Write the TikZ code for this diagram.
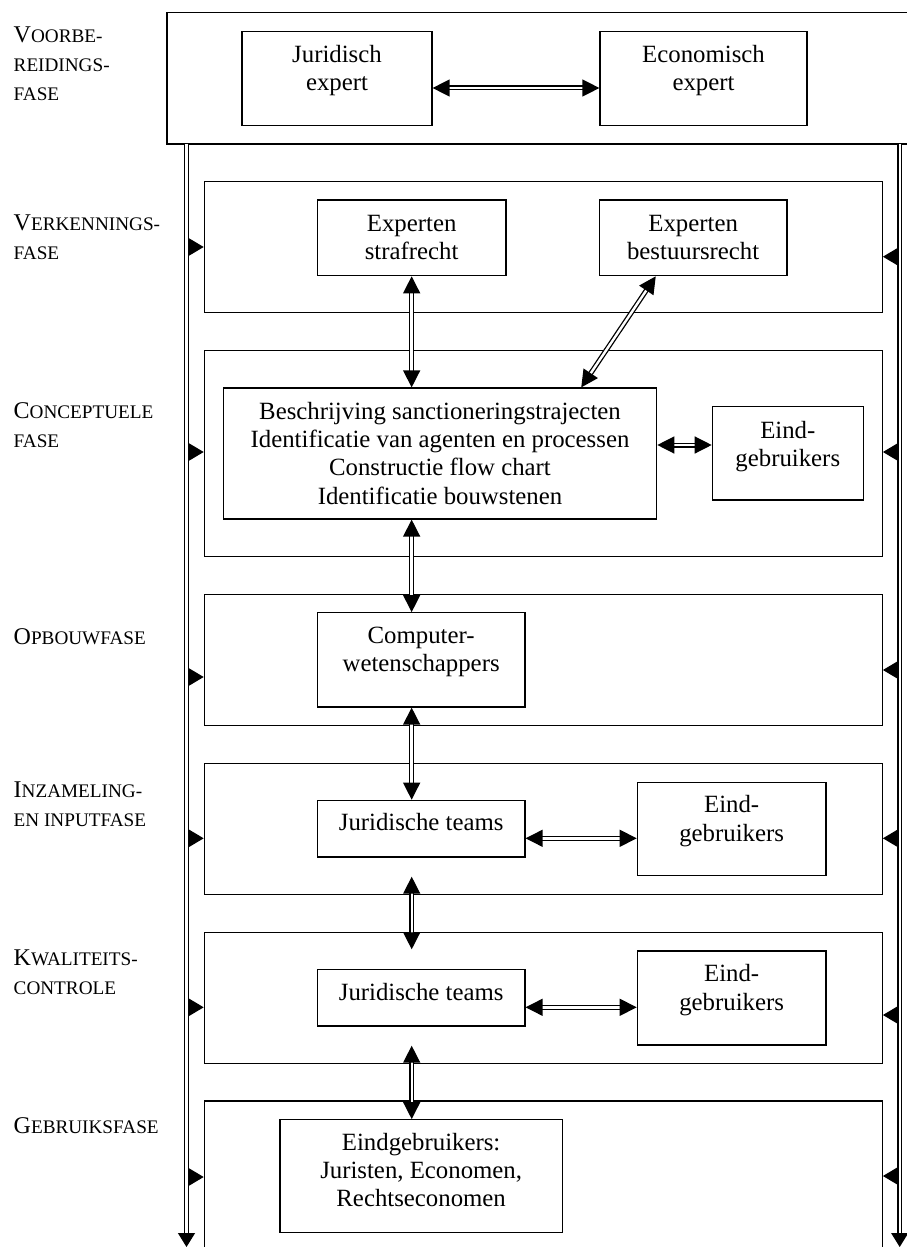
\documentclass[tikz,border=0pt]{standalone}
\usepackage{fontspec}
\setmainfont{Liberation Serif}
\usetikzlibrary{arrows.meta,fit,calc}
\newcommand\scBig[1]{{\fontsize{12}{14.5}\selectfont #1}}
\newcommand\scSm[1]{{\fontsize{9.6}{14.5}\selectfont #1}}
\begin{document}
\begin{tikzpicture}[x=0.5pt,y=-0.5pt,
 box/.style={draw, line width=0.6pt, inner sep=0pt, rectangle},
 txt/.style={align=center, font=\fontsize{12.4}{14.2}\selectfont, inner sep=0pt},
 lab/.style={anchor=base west, inner sep=0pt, align=left, font=\fontsize{12}{14.5}\selectfont},
 dbl/.style={draw, line width=0.65pt, double, double distance=1.2pt},
 biarrow/.style={dbl, {Triangle[length=8.5pt,width=8.5pt]}-{Triangle[length=8.5pt,width=8.5pt]}},
 sidetip/.style={-{Triangle[length=7.7pt,width=9pt]}, line width=0.6pt},
 maintip/.style={dbl, -{Triangle[length=7pt,width=8.5pt]}}
]
\useasboundingbox (0,0) rectangle (906,1247);
% preparatory phase
\node[box, fit={(167,12.7) (930,144)}] (top) {};
\node[box, fit={(242,31.7) (432,125.3)}] (jur) {};
\node[box, fit={(600,31.7) (807,125.3)}] (eco) {};
\node[txt, anchor=base] (jurT) at (jur.center |- 0,90.7) {Juridisch\\expert};
\node[txt, anchor=base] (ecoT) at (eco.center |- 0,90.7) {Economisch\\expert};
\draw[biarrow] (jur.east |- 0,88) -- (eco.west |- 0,88);
% phase boxes
\node[box, fit={(204.3,181.7) (882.3,312.7)}] (p1) {};
\node[box, fit={(204.3,350.3) (882.3,556.7)}] (p2) {};
\node[box, fit={(204.3,594.3) (882.3,725.3)}] (p3) {};
\node[box, fit={(204.3,763.3) (882.3,894.3)}] (p4) {};
\node[box, fit={(204.3,932.3) (882.3,1063.3)}] (p5) {};
\node[box, fit={(204.3,1101) (882.3,1262)}] (p6) {};
% inner boxes
\node[box, fit={(317.3,200) (506,275.7)}] (straf) {};
\node[box, fit={(599.3,200) (787,275.7)}] (best) {};
\node[box, fit={(223.3,388) (656.7,519)}] (besch) {};
\node[box, fit={(712.3,406.7) (863.3,500)}] (eind2) {};
\node[box, fit={(317.3,612.7) (525,707)}] (comp) {};
\node[box, fit={(317.3,800.3) (525,857)}] (jur4) {};
\node[box, fit={(637.3,782.3) (826,875.7)}] (eind4) {};
\node[box, fit={(317.3,969.7) (525,1026)}] (jur5) {};
\node[box, fit={(637.3,951) (826,1045)}] (eind5) {};
\node[box, fit={(280,1119.7) (562.3,1232.7)}] (eindg) {};
% texts (anchor base = baseline of last line)
\node[txt, anchor=base] (strafT) at (straf.center |- 0,259.4) {Experten\\strafrecht};
\node[txt, anchor=base] (bestT) at (best.center |- 0,259.4) {Experten\\bestuursrecht};
\node[txt, anchor=base] (beschT) at (besch.center |- 0,504.2) {Beschrijving sanctioneringstrajecten\\Identificatie van agenten en processen\\Constructie flow chart\\Identificatie bouwstenen};
\node[txt, anchor=base] (eind2T) at (eind2.center |- 0,466.7) {Eind-\\gebruikers};
\node[txt, anchor=base] (compT) at (comp.center |- 0,671.7) {Computer-\\wetenschappers};
\node[txt, anchor=base] (jur4T) at (jur4.center |- 0,830.7) {Juridische teams};
\node[txt, anchor=base] (eind4T) at (eind4.center |- 0,841.1) {Eind-\\gebruikers};
\node[txt, anchor=base] (jur5T) at (jur5.center |- 0,1000) {Juridische teams};
\node[txt, anchor=base] (eind5T) at (eind5.center |- 0,1010.1) {Eind-\\gebruikers};
\node[txt, anchor=base] (eindgT) at (eindg.center |- 0,1206.8) {Eindgebruikers:\\Juristen, Economen,\\Rechtseconomen};
% phase labels
\node[lab] (l0) at (13.3,100.7) {\scBig{V}\scSm{OORBE-}\\\scSm{REIDINGS-}\\\scSm{FASE}};
\node[lab] (l1) at (13.3,259) {\scBig{V}\scSm{ERKENNINGS-}\\\scSm{FASE}};
\node[lab] (l2) at (13.3,447.3) {\scBig{C}\scSm{ONCEPTUELE}\\\scSm{FASE}};
\node[lab] (l3) at (13.3,644.3) {\scBig{O}\scSm{PBOUWFASE}};
\node[lab] (l4) at (13.3,826) {\scBig{I}\scSm{NZAMELING-}\\\scSm{EN INPUTFASE}};
\node[lab] (l5) at (13.3,994) {\scBig{K}\scSm{WALITEITS-}\\\scSm{CONTROLE}};
\node[lab] (l6) at (13.3,1133) {\scBig{G}\scSm{EBRUIKSFASE}};
% main vertical lines
\coordinate (Ltop) at (186.5,144);
\coordinate (Lbot) at (186.5,1247);
\coordinate (Rtop) at (899.7,144);
\coordinate (Rbot) at (899.7,1247);
\draw[maintip] (Ltop) -- (Lbot);
\draw[maintip] (Rtop) -- (Rbot);
% side arrowheads
\foreach \n/\yl/\yr in {1/247/256.7, 2/452/452, 3/677/670, 4/838.3/838.3, 5/1007.3/1015, 6/1177/1176}{
  \coordinate (L\n) at (189,\yl);
  \coordinate (R\n) at (897.7,\yr);
  \draw[sidetip] (L\n) -- (p\n.west |- L\n);
  \draw[sidetip] (R\n) -- (p\n.east |- R\n);
}
% connectors
\draw[biarrow] (straf.south) -- (straf.south |- besch.north);
\draw[biarrow] ($(best.south west)!0.302!(best.south east)$) -- ($(besch.north west)!0.825!(besch.north east)$);
\draw[biarrow] (besch.east |- 0,445) -- (eind2.west |- 0,445);
\draw[biarrow] (straf.south |- besch.south) -- (straf.south |- comp.north);
\draw[biarrow] (straf.south |- comp.south) -- (straf.south |- jur4.north);
\coordinate (a45t) at (411.7,876.7);
\coordinate (a45b) at (411.7,949.3);
\draw[biarrow] (a45t) -- (a45b);
\coordinate (a56t) at (411.7,1045.7);
\draw[biarrow] (a56t) -- (a56t |- eindg.north);
\draw[biarrow] (jur4.east |- 0,838.3) -- (eind4.west |- 0,838.3);
\draw[biarrow] (jur5.east |- 0,1007.3) -- (eind5.west |- 0,1007.3);
\end{tikzpicture}
\end{document}
